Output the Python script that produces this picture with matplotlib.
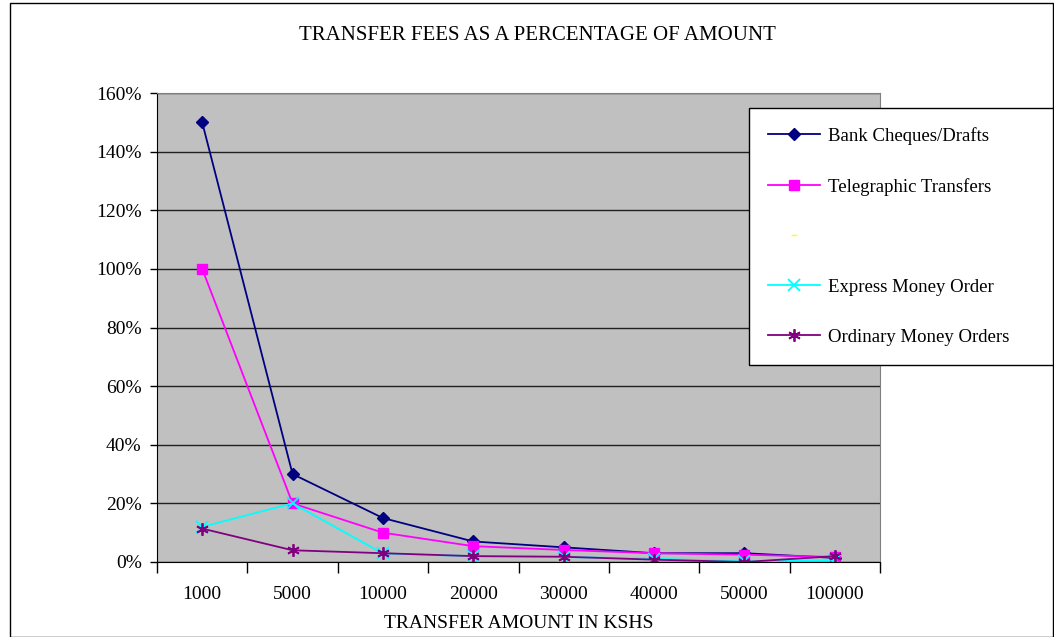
import matplotlib.pyplot as plt
from matplotlib.lines import Line2D
from matplotlib.patches import Rectangle
from matplotlib.ticker import FixedLocator

plt.rcParams['font.family'] = ['Liberation Serif', 'DejaVu Serif']

# Data (percent of amount)
amounts = ["1000", "5000", "10000", "20000", "30000", "40000", "50000", "100000"]
bank = [150, 30, 15, 7, 5, 3, 3, 1.4]
telegraphic = [100, 20, 10, 5.4, 4.1, 3, 2.5, 1.7]
express = [12, 20, 2.9, 2, 1.7, 1.1, 0.2, 0.6]
ordinary = [11.4, 4, 3, 2, 1.8, 0.8, 0, 2]

fig = plt.figure(figsize=(10.54, 6.37), dpi=100)
# outer chart border
fig.patches.append(Rectangle((10 / 1054, 0), 1043 / 1054, 634 / 637, transform=fig.transFigure,
                             fill=False, edgecolor='black', linewidth=1))

ax = fig.add_axes([157 / 1054, 1 - 562 / 637, 723 / 1054, 469 / 637])
ax.set_facecolor('#C0C0C0')

x = list(range(len(amounts)))
ax.plot(x, bank, color='#000080', marker='D', markersize=6, lw=1.3, label="Bank Cheques/Drafts")
ax.plot(x, telegraphic, color='#FF00FF', marker='s', markersize=7, lw=1.3, label="Telegraphic Transfers")
ax.plot(x, express, color='#00FFFF', marker='x', markersize=8, mew=1.3, lw=1.3, label="Express Money Order")
ax.plot(x, ordinary, color='#800080', marker=(6, 2, 0), markersize=9, mew=1.3, lw=1.3, label="Ordinary Money Orders")

ax.set_xlim(-0.5, len(amounts) - 0.5)
ax.set_ylim(0, 160)
ax.set_yticks(range(0, 161, 20))
ax.set_yticklabels([f"{v}%" for v in range(0, 161, 20)], fontsize=14)
ax.set_xticks(x)
ax.set_xticklabels(amounts, fontsize=14)
ax.tick_params(axis='x', length=0, pad=17)
ax.xaxis.set_minor_locator(FixedLocator([i - 0.5 for i in range(len(amounts) + 1)]))
ax.tick_params(axis='x', which='minor', length=8, width=1, color='black', direction='out')
ax.tick_params(axis='y', length=5, width=1, direction='out', pad=6)
ax.yaxis.grid(True, color='#202020', linewidth=1)
ax.set_axisbelow(True)
ax.spines['top'].set_color('#808080')
ax.spines['right'].set_color('#808080')

ax.set_xlabel("TRANSFER AMOUNT IN KSHS", fontsize=14, labelpad=9)
fig.text(537 / 1054, 1 - 36 / 637, "TRANSFER FEES AS A PERCENTAGE OF AMOUNT",
         ha='center', va='center', fontsize=15)

handles, labels = ax.get_legend_handles_labels()
blank = Line2D([], [], color='#FFFF00', marker='_', markersize=4, linestyle='none')
handles.insert(2, blank)
labels.insert(2, " ")
leg = fig.legend(handles, labels, loc='upper left',
                 bbox_to_anchor=(749 / 1054, 1 - 366 / 637, 304 / 1054, 258 / 637), mode='expand',
                 fontsize=13.5, frameon=True, fancybox=False, framealpha=1, edgecolor='black',
                 handlelength=2.8, labelspacing=1.76, borderpad=1.0, handletextpad=0.4,
                 borderaxespad=0)
leg.get_frame().set_linewidth(1)

plt.savefig("out.png", dpi=100)
